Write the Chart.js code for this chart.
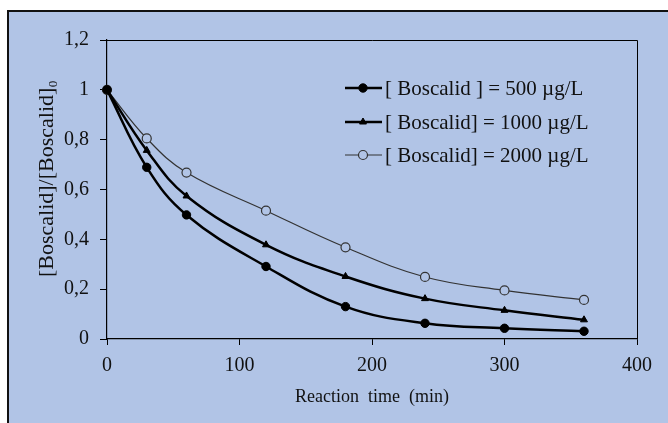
<!DOCTYPE html>
<html>
<head>
<meta charset="utf-8">
<script src="https://cdn.jsdelivr.net/npm/chart.js@4"></script>
<style>
  html, body { margin: 0; padding: 0; background: #ffffff; }
  #wrap { width: 668px; height: 423px; position: relative; }
</style>
</head>
<body>
<div id="wrap"><canvas id="c" width="668" height="423"></canvas></div>
<script>
// ---- data ----
const times = [0, 30, 60, 120, 180, 240, 300, 360];
const series500 = [1, 0.689, 0.498, 0.291, 0.130, 0.063, 0.043, 0.031];
const series1000 = [1, 0.757, 0.574, 0.378, 0.251, 0.162, 0.115, 0.077];
const series2000 = [1, 0.805, 0.668, 0.515, 0.368, 0.249, 0.195, 0.157];
const seriesLabels = ['[ Boscalid ] = 500 \u00b5g/L', '[ Boscalid] = 1000 \u00b5g/L', '[ Boscalid] = 2000 \u00b5g/L'];
const xTicks = [0, 100, 200, 300, 400];
const yTicks = [0, 0.2, 0.4, 0.6, 0.8, 1, 1.2];
const xTitle = 'Reaction  time  (min)';
const yTitle = '\u2002\u2002[Boscalid]/[Boscalid]\u2080';

const BG = '#b1c4e6';
const FONT = "'Liberation Serif', 'Times New Roman', serif";

function pts(vals) { return times.map((t, i) => ({ x: t, y: vals[i] })); }

const bgPlugin = {
  id: 'bg',
  beforeDraw(chart) {
    const ctx = chart.ctx;
    ctx.save();
    ctx.fillStyle = '#ffffff';
    ctx.fillRect(0, 0, chart.width, chart.height);
    ctx.fillStyle = BG;
    ctx.fillRect(8, 11, chart.width - 8, chart.height - 11);
    ctx.strokeStyle = '#111111';
    ctx.lineWidth = 2;
    ctx.beginPath();
    ctx.moveTo(8, chart.height);
    ctx.lineTo(8, 11);
    ctx.lineTo(chart.width, 11);
    ctx.stroke();
    ctx.restore();
  },
  afterDraw(chart) {
    const ctx = chart.ctx;
    const a = chart.chartArea;
    ctx.save();
    ctx.strokeStyle = '#000000';
    ctx.lineWidth = 1;
    ctx.beginPath();
    ctx.moveTo(a.left, a.top + 0.5);
    ctx.lineTo(a.right + 0.5, a.top + 0.5);
    ctx.lineTo(a.right + 0.5, a.bottom);
    ctx.stroke();
    // legend
    const rows = [88, 122, 155];
    chart.data.datasets.forEach((ds, i) => {
      const y = rows[i];
      ctx.strokeStyle = ds.borderColor;
      ctx.lineWidth = ds.borderWidth;
      ctx.beginPath();
      ctx.moveTo(345, y);
      ctx.lineTo(382, y);
      ctx.stroke();
      ctx.fillStyle = ds.pointBackgroundColor;
      ctx.strokeStyle = ds.pointBorderColor;
      ctx.lineWidth = ds.pointBorderWidth;
      ctx.beginPath();
      if (ds.pointStyle === 'triangle') {
        const r = ds.pointRadius;
        ctx.moveTo(363, y - r);
        ctx.lineTo(363 + r * 0.866, y + r * 0.5);
        ctx.lineTo(363 - r * 0.866, y + r * 0.5);
        ctx.closePath();
      } else {
        ctx.arc(363, y, ds.pointRadius, 0, Math.PI * 2);
      }
      ctx.fill();
      ctx.stroke();
      ctx.fillStyle = '#111111';
      ctx.font = '21px ' + FONT;
      ctx.textBaseline = 'middle';
      ctx.textAlign = 'left';
      ctx.fillText(ds.label, 385, y + 1);
    });
    ctx.restore();
  }
};

new Chart(document.getElementById('c'), {
  type: 'line',
  data: {
    datasets: [
      {
        label: seriesLabels[0], data: pts(series500),
        borderColor: '#000000', borderWidth: 2.5,
        pointStyle: 'circle', pointRadius: 4.2,
        pointBackgroundColor: '#000000', pointBorderColor: '#000000', pointBorderWidth: 1,
        tension: 0.4, clip: false
      },
      {
        label: seriesLabels[1], data: pts(series1000),
        borderColor: '#000000', borderWidth: 2.5,
        pointStyle: 'triangle', pointRadius: 4,
        pointBackgroundColor: '#000000', pointBorderColor: '#000000', pointBorderWidth: 1,
        tension: 0.4, clip: false
      },
      {
        label: seriesLabels[2], data: pts(series2000),
        borderColor: '#333333', borderWidth: 1.2,
        pointStyle: 'circle', pointRadius: 4.5,
        pointBackgroundColor: BG, pointBorderColor: '#333333', pointBorderWidth: 1.2,
        tension: 0.4, clip: false
      }
    ]
  },
  options: {
    responsive: false,
    animation: false,
    events: [],
    layout: { padding: { left: 0, top: 40, right: 31, bottom: 0 } },
    plugins: { legend: { display: false }, tooltip: { enabled: false } },
    scales: {
      x: {
        type: 'linear', min: 0, max: 400,
        afterBuildTicks(s) { s.ticks = xTicks.map(v => ({ value: v })); },
        afterFit(s) { s.height = 84; },
        grid: { display: true, drawOnChartArea: false, drawTicks: true, tickLength: 6, color: '#000000', lineWidth: 1 },
        border: { display: true, color: '#000000', width: 1.2 },
        ticks: { color: '#111111', font: { family: FONT, size: 20 }, padding: 9, maxRotation: 0 },
        title: { display: true, text: xTitle, color: '#111111', font: { family: FONT, size: 18 }, padding: { top: 0, bottom: 15 } }
      },
      y: {
        type: 'linear', min: 0, max: 1.2,
        afterBuildTicks(s) { s.ticks = yTicks.map(v => ({ value: v })); },
        afterFit(s) { s.width = 107; },
        grid: { display: true, drawOnChartArea: false, drawTicks: true, tickLength: 7, color: '#000000', lineWidth: 1 },
        border: { display: true, color: '#000000', width: 1.2 },
        ticks: {
          color: '#111111', font: { family: FONT, size: 20 }, padding: 11,
          callback: v => String(Math.round(v * 10) / 10).replace('.', ',')
        },
        title: { display: true, text: yTitle, color: '#111111', font: { family: FONT, size: 22 }, padding: { top: 34, bottom: 0 } }
      }
    }
  },
  plugins: [bgPlugin]
});
</script>
</body>
</html>
